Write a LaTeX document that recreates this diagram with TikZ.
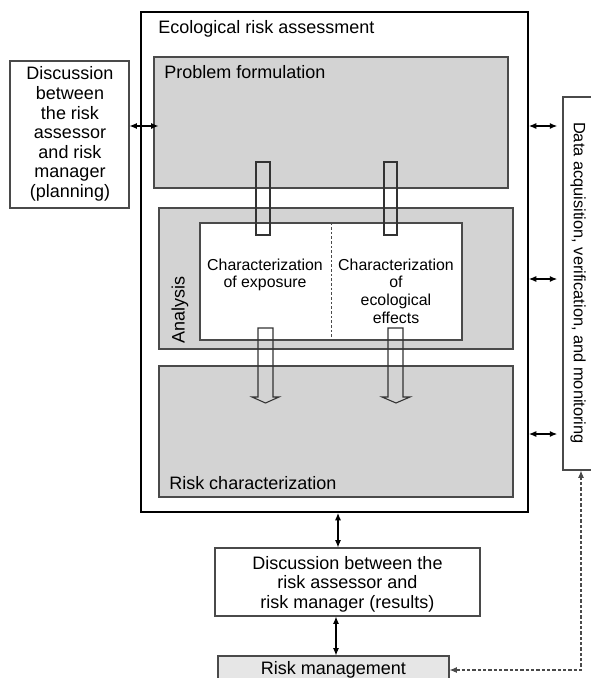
\documentclass[tikz,border=0pt]{standalone}
\usepackage{fontspec}
\setmainfont{Liberation Sans}
\usetikzlibrary{arrows.meta,fit}
\definecolor{boxgray}{HTML}{D3D3D3}
\definecolor{mgmtgray}{HTML}{E6E6E6}
\definecolor{edge}{HTML}{4A4A4A}

\begin{document}
\begin{tikzpicture}[x=0.75pt,y=-0.75pt,
    box/.style={draw=edge,line width=0.8pt,inner sep=0pt},
    greybox/.style={box,fill=boxgray},
    lbl/.style={font=\fontsize{13.5}{14.7}\selectfont,inner sep=0pt},
    small/.style={font=\fontsize{11.9}{13.2}\selectfont,align=center,inner sep=0pt},
    dbl/.style={{Latex[length=5.5pt,width=4.5pt]}-{Latex[length=5.5pt,width=4.5pt]},line width=0.8pt},
    hollow/.style={draw=black!80,line width=0.8pt}]
    \useasboundingbox (0,0) rectangle (590,678);
    \node[box,draw=black,line width=1.4pt,fit={(141,12) (528,512)}] (era) {};
    \node[lbl,anchor=west] (eratitle) at (158,29) {Ecological risk assessment};
    \node[greybox,fit={(154,57) (508,188)}] (pf) {};
    \node[lbl,anchor=west] (pftext) at (164,72) {Problem formulation};
    \node[greybox,fit={(159,208) (513,349)}] (an) {};
    \node[lbl,rotate=90] (antext) at (180,310) {Analysis};
    \node[box,fill=white,fit={(200,223) (462,340)}] (inner) {};
    \draw[edge,line width=0.7pt,dash pattern=on 2pt off 1.5pt] (inner.north -| 331,0) -- (inner.south -| 331,0);
    \node[small] (expo) at (265,275) {Characterization\\of exposure};
    \node[small] (eff) at (396,291) {Characterization\\of\\ecological\\effects};
    \node[greybox,fit={(159,366) (513,497)}] (rc) {};
    \node[lbl,anchor=west] (rctext) at (169,483) {Risk characterization};
    % hollow arrows
    \draw[hollow] (256,162) rectangle (270,235);
    \draw[hollow] (384,162) rectangle (397,235);
    \draw[hollow] (258,328) -- (273,328) -- (273,397) -- (279,397) -- (265.5,403)
        -- (252,397) -- (258,397) -- cycle;
    \draw[hollow] (388,328) -- (403,328) -- (403,397) -- (410,397) -- (396,403)
        -- (382,397) -- (388,397) -- cycle;
    % side boxes
    \node[box,fit={(10,61) (129,208)}] (plan) {};
    \node[lbl,align=center] (plantext) at (70,134) {Discussion\\between\\the risk\\assessor\\and risk\\manager\\(planning)};
    \node[box,fit={(563,97) (600,470)}] (data) {};
    \node[lbl,font=\fontsize{12.3}{14}\selectfont,rotate=-90] (datatext) at (578,283) {Data acquisition, verification, and monitoring};
    \node[box,fit={(215,548) (480,616)}] (res) {};
    \node[lbl,align=center] (restext) at (347.5,584) {Discussion between the\\risk assessor and\\risk manager (results)};
    \node[box,fill=mgmtgray,fit={(218,656) (449,684)}] (rm) {};
    \node[lbl] (rmtext) at (333.5,670) {Risk management};
    % connectors
    \draw[dbl,shorten >=-3.75pt] (plan.east |- 0,126) -- (pf.west |- 0,126);
    \draw[dbl,shorten >=4pt] (era.east |- 0,126) -- (data.west |- 0,126);
    \draw[dbl,shorten >=4pt] (era.east |- 0,279) -- (data.west |- 0,279);
    \draw[dbl,shorten >=4pt] (era.east |- 0,434) -- (data.west |- 0,434);
    \draw[dbl] (era.south -| 338,0) -- (res.north -| 338,0);
    \draw[dbl] (res.south -| 336,0) -- (rm.north -| 336,0);
    \draw[dbl,edge,dash pattern=on 2.5pt off 1.5pt] (rm.east |- 0,670) -| (data.south -| 581,0);
\end{tikzpicture}
\end{document}
